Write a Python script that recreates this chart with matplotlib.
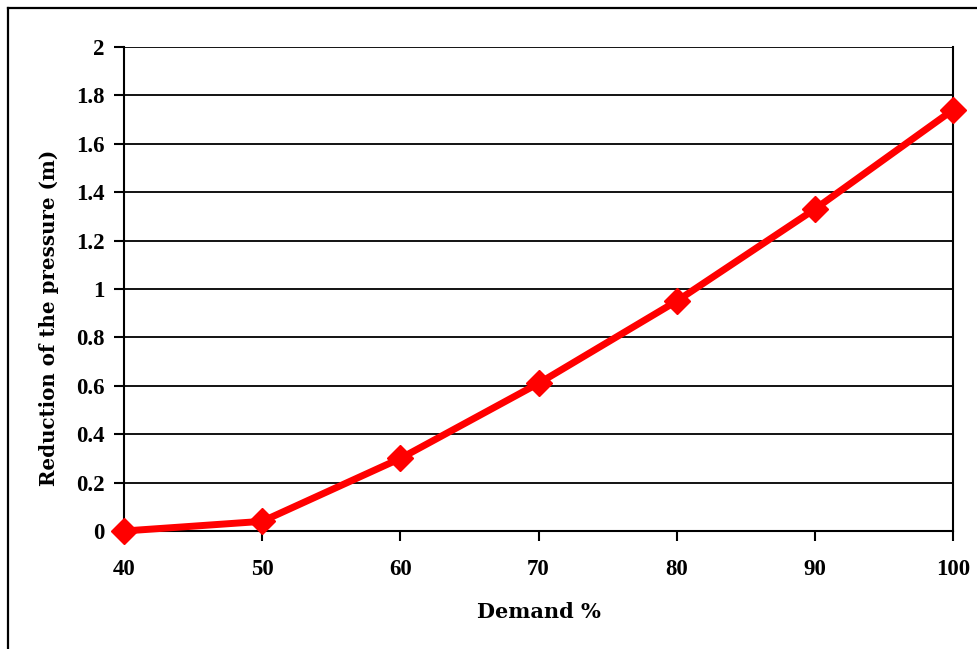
import matplotlib
matplotlib.use("Agg")
import matplotlib.pyplot as plt
from matplotlib.lines import Line2D

# Demand levels (%) and matching reduction of the pressure (m)
demand = [40, 50, 60, 70, 80, 90, 100]
reduction = [0.0, 0.04, 0.30, 0.61, 0.95, 1.33, 1.74]
y_ticks = [0, 0.2, 0.4, 0.6, 0.8, 1, 1.2, 1.4, 1.6, 1.8, 2]
y_tick_labels = ["0", "0.2", "0.4", "0.6", "0.8", "1", "1.2", "1.4", "1.6", "1.8", "2"]

plt.rcParams['font.family'] = ['Liberation Serif', 'DejaVu Serif']
plt.rcParams['font.weight'] = 'bold'

fig = plt.figure(figsize=(9.77, 6.49), dpi=100)
ax = fig.add_axes([0.127, 0.1818, 0.8484, 0.7458])

ax.plot(demand, reduction, color='#ff0000', linewidth=5, marker='D',
        markersize=13, markeredgecolor='#ff0000', clip_on=False, zorder=3)

ax.set_xlim(40, 100)
ax.set_ylim(0, 2)
ax.set_xticks(demand)
ax.set_yticks(y_ticks)
ax.set_yticklabels(y_tick_labels)
ax.yaxis.grid(True, color='black', linewidth=1.3)
ax.set_axisbelow(True)

ax.spines['top'].set_visible(False)
for side in ['left', 'bottom', 'right']:
    ax.spines[side].set_linewidth(1.5)

ax.tick_params(axis='both', direction='out', length=7, width=1.5,
               labelsize=16.5, colors='black')
ax.tick_params(axis='x', pad=13)
ax.tick_params(axis='y', pad=7)

# axis titles in a wider serif face
ax.set_xlabel('Demand %', labelpad=16, family='DejaVu Serif',
              fontsize=15, fontweight='bold')
ax.set_ylabel('Reduction of the pressure (m)', family='DejaVu Serif',
              fontsize=14.3, fontweight='bold')
ax.yaxis.set_label_coords(-0.079, 0.44)

# outer chart frame (extends past the right and bottom edges)
fig.add_artist(Line2D([8 / 977, 1.0], [1 - 8 / 649, 1 - 8 / 649],
                      transform=fig.transFigure, color='black', linewidth=1.6))
fig.add_artist(Line2D([8 / 977, 8 / 977], [0.0, 1 - 8 / 649],
                      transform=fig.transFigure, color='black', linewidth=1.6))

fig.savefig('out.png', dpi=100)
